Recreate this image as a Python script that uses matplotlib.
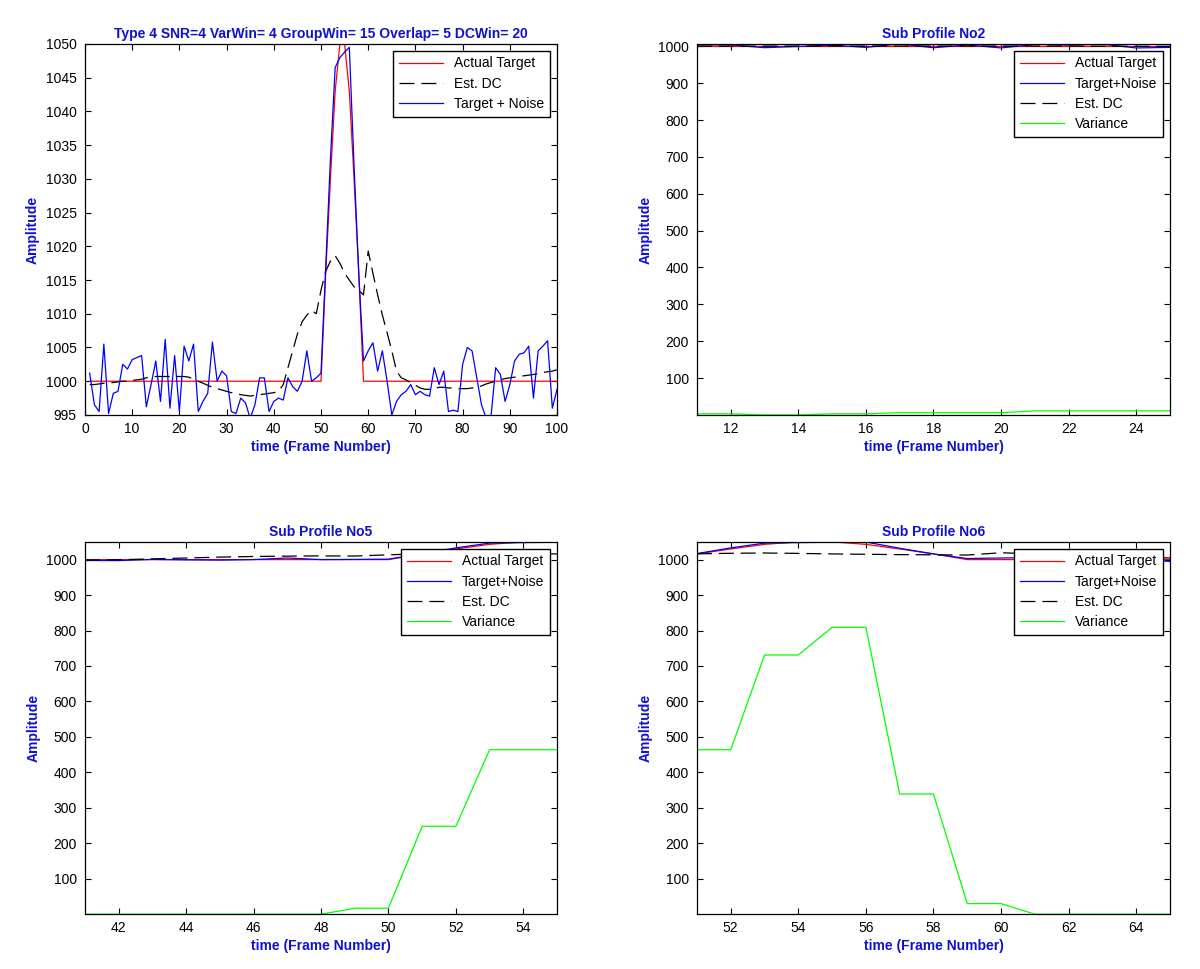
import numpy as np
import matplotlib.pyplot as plt

plt.rcParams['font.family'] = ['Liberation Sans', 'DejaVu Sans']

# frame numbers 1..100
frames = list(range(1, 101))

actual = [1000] * 50 + [1016, 1030, 1043, 1050, 1050, 1043, 1030, 1016] + [1000] * 42

noisy = [1001.2, 996.5, 995.5, 1005.5, 995.2, 998.2, 998.5, 1002.5, 1001.8, 1003.2,
         1003.5, 1003.8, 996.2, 999.5, 1003.0, 997.0, 1006.2, 996.0, 1003.8, 995.5,
         1005.2, 1003.0, 1005.5, 995.5, 997.0, 998.2, 1005.8, 1000.0, 1001.5, 1000.8,
         995.5, 995.2, 997.5, 996.8, 994.5, 996.5, 1000.5, 1000.5, 995.5, 997.0,
         997.5, 997.2, 1000.5, 999.2, 998.5, 1000.0, 1004.5, 1000.0, 1000.5, 1001.2,
         1017.0, 1033.0, 1046.5, 1048.0, 1048.8, 1049.5, 1032.0, 1016.0, 1003.0, 1004.5,
         1005.7, 1001.5, 1004.5, 1000.0, 995.0, 997.0, 998.0, 998.5, 999.5, 998.0,
         998.5, 998.0, 997.8, 1002.0, 999.5, 1001.5, 995.5, 995.7, 995.5, 1002.5,
         1005.0, 1004.5, 1000.5, 996.5, 994.5, 994.7, 1002.0, 1001.0, 997.0, 999.5,
         1003.0, 1004.0, 1004.2, 1005.2, 997.5, 1004.5, 1005.2, 1006.0, 996.0, 998.8]

est_dc = [999.5, 999.5, 999.6, 999.7, 999.8, 999.8, 999.9, 1000.0, 1000.0, 1000.1,
          1000.2, 1000.3, 1000.5, 1000.6, 1000.7, 1000.7, 1000.7, 1000.7, 1000.7, 1000.7,
          1000.7, 1000.6, 1000.3, 1000.0, 999.7, 999.4, 999.1, 998.9, 998.7, 998.5,
          998.3, 998.2, 998.0, 997.9, 997.8, 997.9, 998.0, 998.1, 998.2, 998.3,
          998.5, 999.5, 1002.0, 1004.5, 1007.0, 1008.8, 1009.8, 1010.5, 1010.0, 1013.5,
          1016.3, 1017.8, 1018.6, 1017.5, 1016.0, 1015.0, 1014.0, 1013.5, 1012.8, 1019.3,
          1016.0, 1012.8, 1009.8, 1007.2, 1004.5, 1001.5, 1000.5, 1000.2, 999.8, 999.4,
          999.0, 998.8, 998.8, 998.9, 999.1, 999.1, 999.0, 999.0, 998.9, 998.9,
          998.9, 999.0, 999.1, 999.3, 999.6, 999.8, 1000.0, 1000.2, 1000.4, 1000.5,
          1000.6, 1000.7, 1000.8, 1000.9, 1001.0, 1001.1, 1001.3, 1001.4, 1001.5, 1001.7]

# sub profile windows and variance
sub_titles = ['Sub Profile No2', 'Sub Profile No5', 'Sub Profile No6']
sub_starts = [11, 41, 51]
sub_variance = [
    [3, 3, 0, 0, 3, 3, 6, 6, 6, 6, 11, 11, 11, 11, 11],
    [0, 0, 0, 0, 0, 0, 0, 0, 17, 17, 248, 248, 464, 464, 464],
    [464, 464, 731, 731, 809, 809, 339, 339, 30, 30, 0, 0, 0, 0, 0],
]

main_title = 'Type 4 SNR=4 VarWin= 4 GroupWin= 15 Overlap= 5 DCWin= 20'

txt_blue = '#1010d0'
red = '#ff0000'
blue = '#0000ff'
green = '#00ff00'
dash = (12, 5.5)

fig = plt.figure(figsize=(12, 9.69), dpi=100)

positions = [[0.0708, 0.5718, 0.3934, 0.3828],
             [0.5808, 0.5718, 0.3942, 0.3828],
             [0.0708, 0.0565, 0.3934, 0.3843],
             [0.5808, 0.0565, 0.3942, 0.3843]]


def style(ax):
    ax.tick_params(direction='in', top=True, right=True, labelsize=10, length=4)
    ax.tick_params(axis='y', pad=6)
    ax.tick_params(axis='x', pad=5)
    ax.set_xlabel('time (Frame Number)', color=txt_blue, fontweight='bold', fontsize=10, labelpad=3)
    ax.set_ylabel('Amplitude', color=txt_blue, fontweight='bold', fontsize=10, labelpad=4)
    for s in ax.spines.values():
        s.set_linewidth(0.9)


def add_legend(ax):
    ax.legend(loc='upper right', fontsize=10, fancybox=False, edgecolor='black',
              framealpha=1, handlelength=3.2, borderaxespad=0.5, labelspacing=0.45)


# main profile
ax = fig.add_axes(positions[0])
ax.plot(frames, actual, color=red, lw=0.9, label='Actual Target')
ax.plot(frames, est_dc, color='black', lw=0.9, dashes=dash, label='Est. DC')
ax.plot(frames, noisy, color=blue, lw=0.9, label='Target + Noise')
ax.set_xlim(0, 100)
ax.set_ylim(995, 1050)
ax.set_xticks(range(0, 101, 10))
ax.set_yticks(range(995, 1051, 5))
ax.set_title(main_title, color=txt_blue, fontweight='bold', fontsize=10, pad=4)
style(ax)
add_legend(ax)

# sub profiles
for i in range(3):
    ax = fig.add_axes(positions[i + 1])
    s = sub_starts[i]
    x = frames[s - 1:s + 14]
    a = actual[s - 1:s + 14]
    n = noisy[s - 1:s + 14]
    d = est_dc[s - 1:s + 14]
    v = sub_variance[i]
    ax.plot(x, a, color=red, lw=0.9, label='Actual Target')
    ax.plot(x, n, color=blue, lw=0.9, label='Target+Noise')
    ax.plot(x, d, color='black', lw=0.9, dashes=dash, label='Est. DC')
    ax.plot(x, v, color=green, lw=0.9, label='Variance')
    ax.set_xlim(x[0], x[-1])
    ax.set_ylim(min(v), max(max(a), max(n), max(d)))
    ax.set_xticks(range(x[0] + 1, x[-1] + 1, 2))
    ax.set_yticks(range(100, 1001, 100))
    ax.set_title(sub_titles[i], color=txt_blue, fontweight='bold', fontsize=10, pad=4)
    style(ax)
    add_legend(ax)

fig.savefig('out.png', dpi=100, facecolor='white')
